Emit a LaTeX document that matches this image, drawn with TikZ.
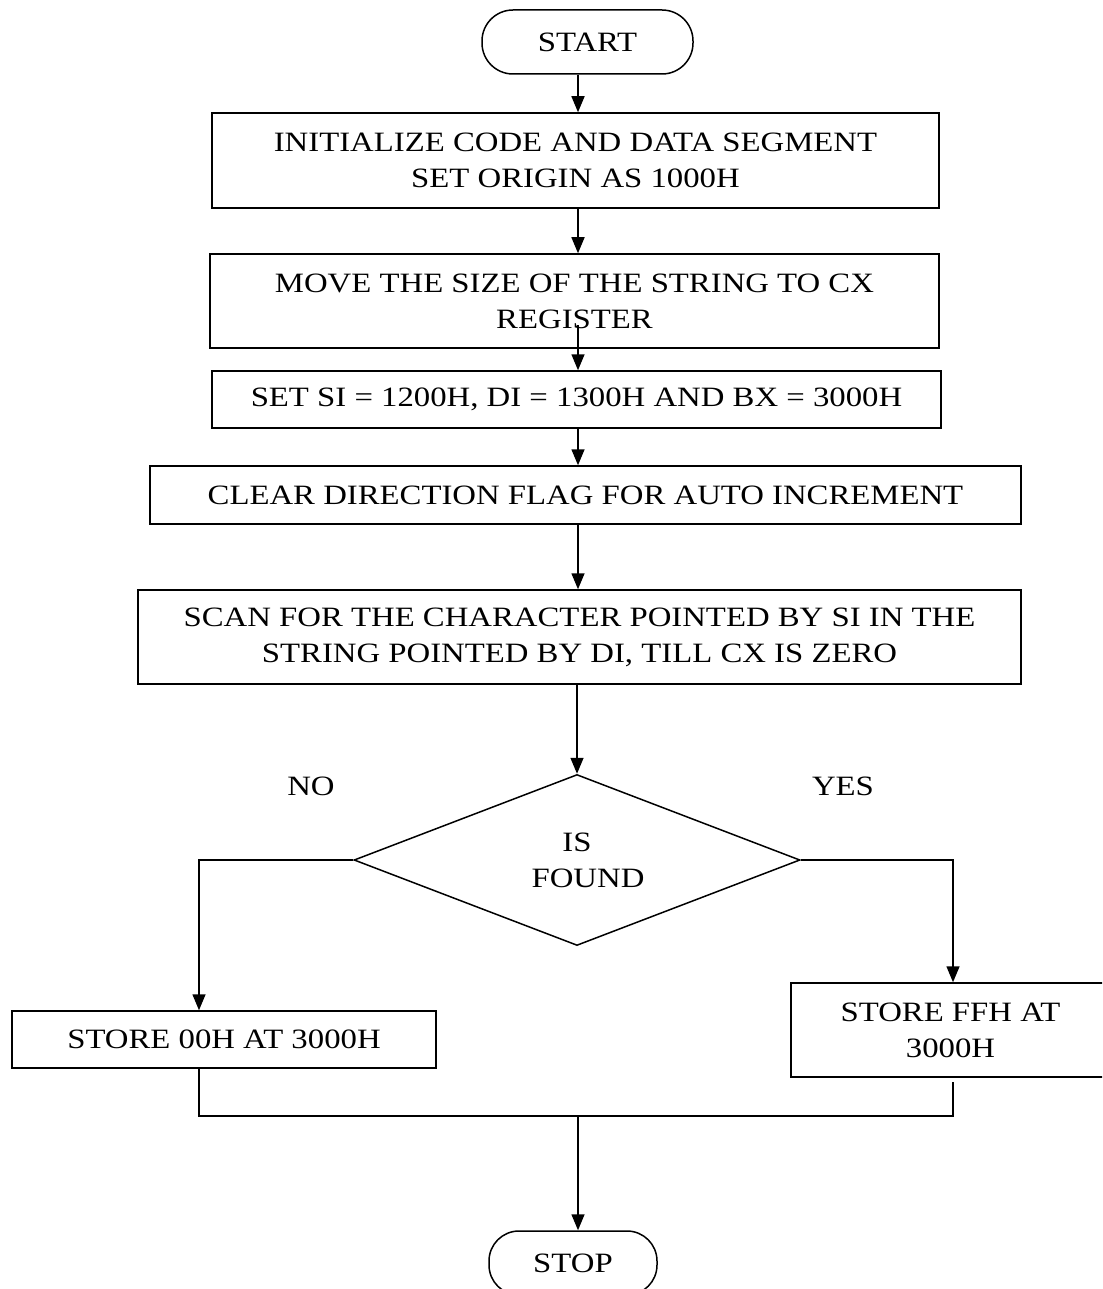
\documentclass[tikz,border=0pt]{standalone}
\usepackage{fontspec}
\setmainfont{Liberation Serif}[FakeStretch=1.17]
\usetikzlibrary{arrows.meta,shapes.geometric,calc}
\begin{document}
\begin{tikzpicture}[x=1pt,y=-1pt,line width=1.5pt,
  every node/.style={font=\fontsize{28}{36}\selectfont},
  box/.style={draw,rectangle,inner sep=0pt,align=center},
  term/.style={draw,rectangle,rounded corners=31pt,inner sep=0pt},
  arr/.style={-{Triangle[length=16pt,width=13pt]}},
  lbl/.style={inner sep=0pt}]
\useasboundingbox (0,0) rectangle (1102,1289);
\clip (0,0) rectangle (1102,1289);
\fill[white] (0,0) rectangle (1102,1289);

\node[term,minimum width=211pt,minimum height=64pt] (start) at (587.5,42) {START};
\node[box,minimum width=727pt,minimum height=95pt] (b1) at (575.5,160.5)
  {INITIALIZE CODE AND DATA SEGMENT\\SET ORIGIN AS 1000H};
\node[box,minimum width=729pt,minimum height=94pt] (b2) at (574.5,301)
  {MOVE THE SIZE OF THE STRING TO CX\\REGISTER};
\node[box,minimum width=729pt,minimum height=57pt] (b3) at (576.5,399.5)
  {SET SI = 1200H, DI = 1300H AND BX = 3000H};
\node[box,minimum width=871pt,minimum height=58pt] (b4) at (585.5,495)
  {CLEAR DIRECTION FLAG FOR AUTO INCREMENT};
\node[box,minimum width=883pt,minimum height=94pt] (b5) at (579.5,637)
  {SCAN FOR THE CHARACTER POINTED BY SI IN THE\\STRING POINTED BY DI, TILL CX IS ZERO};
\node[draw,diamond,aspect=2.6,inner sep=0pt,align=center,
  minimum width=446pt,minimum height=171pt] (dia) at (577,860)
  {IS\\\hspace*{22pt}FOUND};
\node[box,minimum width=424pt,minimum height=57pt] (b6) at (224,1039.5)
  {STORE 00H AT 3000H};
\node[box,minimum width=319pt,minimum height=94pt] (b7) at (950.5,1030)
  {STORE FFH AT\\3000H};
\node[term,rounded corners=30pt,minimum width=168pt,minimum height=64pt] (stop) at (573,1263) {STOP};

\node[lbl] (no) at (311,786) {NO};
\node[lbl] (yes) at (843,786) {YES};

\coordinate (spine) at (578,0);
\coordinate (reg) at (578,325);
\coordinate (lx) at (199,0);
\coordinate (rx) at (953,0);
\coordinate (jl) at (199,1116);
\coordinate (jr) at (953,1116);
\coordinate (jm) at (578,1116);
\coordinate (r7) at (953,1082);

\draw[arr] (start.south -| spine) -- (b1.north -| spine);
\draw[arr] (b1.south -| spine) -- (b2.north -| spine);
\draw[arr] (reg) -- (b3.north -| spine);
\draw[arr] (b3.south -| spine) -- (b4.north -| spine);
\draw[arr] (b4.south -| spine) -- (b5.north -| spine);
\draw[arr] (b5.south -| dia.north) -- (dia.north);
\draw[arr] (dia.west) -| (b6.north -| lx);
\draw[arr] (dia.east) -| (b7.north -| rx);
\draw (b6.south -| jl) -- (jl) -- (jr) -- (r7);
\draw[arr] (jm) -- (stop.north -| jm);
\end{tikzpicture}
\end{document}
